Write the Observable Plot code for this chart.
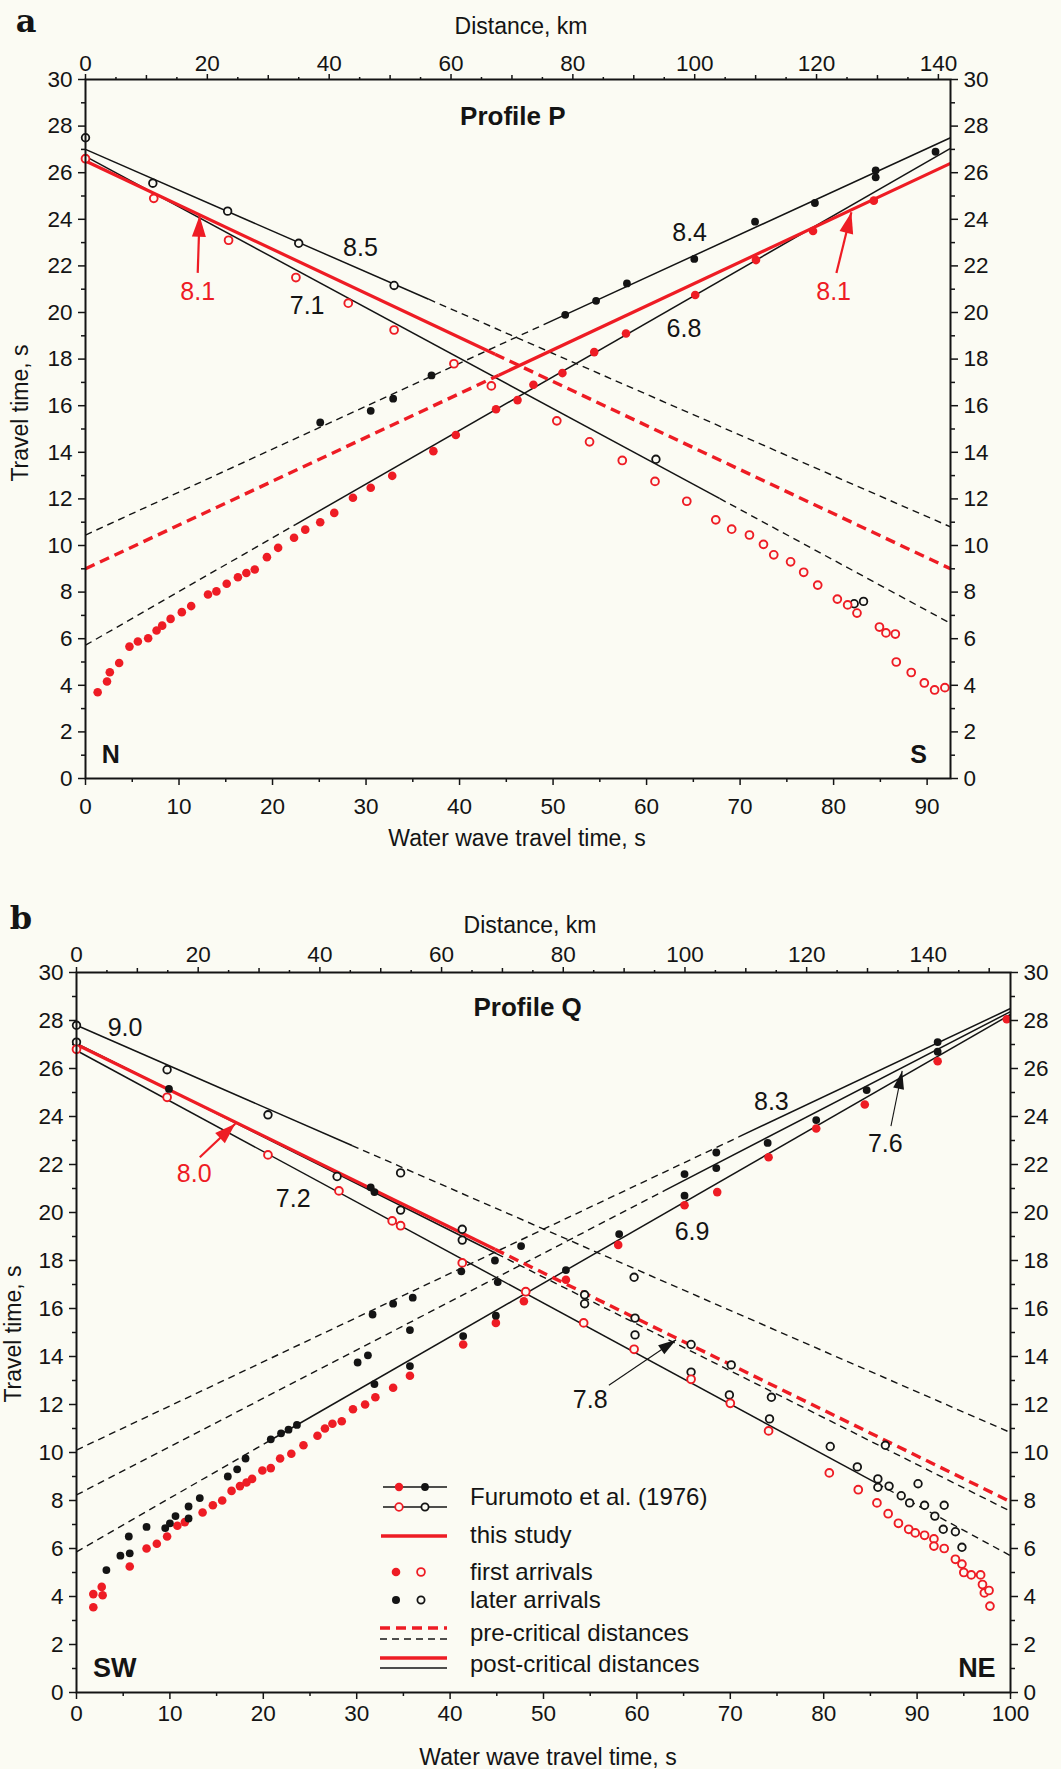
<!DOCTYPE html>
<html><head><meta charset="utf-8">
<script src="https://cdn.jsdelivr.net/npm/d3@7"></script>
<script src="https://cdn.jsdelivr.net/npm/@observablehq/plot@0.6"></script>
<style>
html,body{margin:0;padding:0;overflow:hidden;background:#fbfbf3;}
#page{position:relative;width:1061px;height:1769px;overflow:hidden;background:#fbfbf3;}
#pa,#pb,#ov{position:absolute;left:0;}
#pa{top:0;} #pb{top:880px;} #ov{top:0;pointer-events:none;}
</style></head><body><div id="page"><div id="pa"></div><div id="pb"></div><div id="ov"></div></div>
<script>
const KM_PER_S = 1.535;           // water-wave distance scale (km per s)
const FONT = '"Liberation Sans", Arial, Helvetica, sans-serif';
const INK = "#141414", RED = "#ee1c24", BG = "#fbfbf3";

// ---------------- Panel a : Profile P ----------------
const aBlackSolid  = [[0,27.0,36.7,20.57],[0,26.7,67.8,12.02],[49,19.48,92.5,27.5],[22.5,10.91,92.5,27.04]];
const aBlackDashed = [[36.7,20.57,92.5,10.8],[67.8,12.02,92.5,6.66],[0,10.45,49,19.48],[0,5.72,22.5,10.91]];
const aRedSolid    = [[0,26.5,43.8,18.21],[44.2,17.31,92.5,26.4]];
const aRedDashed   = [[43.8,18.21,92.5,9.0],[0,9.0,44.2,17.31]];
const aRedFilled = [[1.3,3.7],[2.3,4.16],[2.6,4.56],[3.6,4.96],[4.7,5.66],[5.6,5.88],[6.7,6.02],[7.6,6.35],[8.2,6.56],[9.1,6.85],[10.3,7.14],[11.3,7.4],[13.1,7.9],[14.0,8.03],[15.1,8.36],[16.3,8.64],[17.2,8.82],[18.1,8.97],[19.4,9.5],[20.6,9.9],[22.3,10.33],[23.5,10.68],[25.1,11.0],[26.6,11.4],[28.6,12.05],[30.5,12.48],[32.8,12.99],[37.2,14.05],[39.6,14.74],[43.9,15.85],[46.2,16.24],[47.9,16.9],[51.0,17.4],[54.4,18.3],[57.8,19.1],[65.2,20.75],[71.7,22.25],[77.8,23.5],[84.3,24.8]];
const aBlackFilled = [[25.1,15.28],[30.5,15.78],[32.9,16.3],[37.0,17.3],[51.3,19.9],[54.6,20.5],[57.9,21.25],[65.1,22.3],[71.6,23.9],[78.0,24.7],[84.5,26.1],[84.5,25.8],[90.9,26.9]];
const aBlackOpen = [[0,27.5],[7.2,25.55],[15.2,24.35],[22.8,22.97],[33.0,21.16],[61.0,13.7],[82.2,7.5],[83.2,7.6]];
const aRedOpen = [[0,26.6],[7.3,24.9],[15.3,23.1],[22.5,21.5],[28.1,20.4],[33.0,19.25],[39.4,17.8],[43.4,16.85],[50.4,15.35],[53.9,14.45],[57.4,13.65],[60.9,12.75],[64.3,11.9],[67.4,11.1],[69.1,10.7],[71.0,10.45],[72.5,10.05],[73.6,9.6],[75.4,9.3],[76.8,8.85],[78.3,8.3],[80.4,7.7],[81.5,7.45],[82.5,7.1],[84.9,6.5],[85.6,6.25],[86.6,6.2],[86.7,5.0],[88.3,4.55],[89.7,4.1],[90.8,3.8],[91.9,3.9]];
const aLabelsBlack = [[29.4,22.75,"8.5"],[23.7,20.3,"7.1"],[64.6,23.4,"8.4"],[64.0,19.3,"6.8"]];
const aLabelsRed = [[12.0,20.9,"8.1"],[80.0,20.9,"8.1"]];
const aArrowsRed = [[12.0,21.7,12.2,24.15],[80.3,21.7,81.9,24.3]];
const aArrowsBlack = [];
const aTitle = [[45.7,28.4,"Profile P"]];
const aEnds = [[2.7,1.0,"N"],[89.1,1.0,"S"]];

// ---------------- Panel b : Profile Q ----------------
const bBlackSolid  = [[0,27.8,29.5,22.79],[0,26.75,85.7,8.71],[0,27.05,45,18.28],[70.9,23.15,100,28.5],[63,20.92,100,28.37],[20.8,10.52,100,28.25]];
const bBlackDashed = [[29.5,22.79,100,10.83],[85.7,8.71,100,5.7],[45,18.28,100,7.55],[0,10.1,70.9,23.15],[0,8.23,63,20.92],[0,5.86,20.8,10.52]];
const bRedSolid    = [[0,27.0,44.8,18.47]];
const bRedDashed   = [[44.8,18.47,100,7.95]];
const bRedOpen = [[0,26.8],[9.7,24.8],[20.5,22.4],[28.1,20.9],[33.8,19.65],[34.7,19.45],[41.3,17.9],[48.1,16.7],[54.3,15.4],[59.7,14.3],[65.8,13.05],[70.0,12.05],[74.1,10.9],[80.6,9.15],[83.7,8.45],[85.7,7.9],[86.9,7.45],[88.0,7.05],[89.1,6.8],[89.8,6.65],[90.8,6.55],[91.8,6.4],[91.8,6.1],[92.9,6.0],[94.1,5.55],[94.8,5.35],[95.0,5.0],[95.8,4.9],[96.8,4.9],[97.0,4.5],[97.2,4.15],[97.7,4.25],[97.8,3.6]];
const bBlackOpen = [[0,27.8],[0,27.1],[9.7,25.95],[20.5,24.07],[27.9,21.5],[34.7,21.65],[34.7,20.1],[41.3,19.3],[41.3,18.85],[54.4,16.57],[54.4,16.2],[59.7,17.3],[59.8,15.6],[59.8,14.9],[65.8,14.5],[65.8,13.35],[70.1,13.65],[69.9,12.4],[74.4,12.3],[74.2,11.4],[80.7,10.25],[83.6,9.4],[85.8,8.9],[85.8,8.55],[87.0,8.6],[86.6,10.3],[88.3,8.2],[89.2,7.9],[90.1,8.7],[90.8,7.8],[91.9,7.35],[92.9,7.8],[92.8,6.8],[94.1,6.7],[94.8,6.05]];
const bRedFilled = [[1.8,3.55],[1.8,4.1],[2.7,4.4],[2.8,4.05],[5.7,5.25],[7.5,6.0],[8.6,6.2],[9.7,6.5],[10.8,6.95],[11.6,7.1],[13.5,7.5],[14.6,7.8],[15.6,8.0],[16.6,8.4],[17.5,8.6],[18.2,8.75],[18.8,8.9],[19.9,9.25],[20.8,9.35],[21.8,9.75],[23.0,9.95],[24.3,10.3],[25.8,10.7],[26.6,11.0],[27.4,11.2],[28.4,11.3],[29.6,11.8],[30.9,12.0],[32.0,12.3],[33.9,12.7],[35.7,13.2],[41.4,14.5],[44.9,15.4],[47.9,16.3],[52.4,17.2],[58.0,18.65],[65.1,20.3],[68.6,20.85],[74.1,22.3],[79.2,23.5],[84.4,24.5],[92.2,26.3],[99.6,28.05]];
const bBlackFilled = [[3.2,5.1],[4.7,5.7],[5.7,5.8],[5.6,6.5],[7.5,6.9],[9.5,6.85],[10.0,7.05],[10.6,7.35],[12.0,7.25],[12.0,7.75],[13.2,8.1],[16.2,9.0],[17.2,9.3],[18.1,9.75],[20.8,10.55],[21.9,10.8],[22.7,10.95],[23.6,11.15],[30.1,13.75],[31.2,14.05],[31.7,15.75],[33.9,16.2],[36.0,16.45],[35.7,15.1],[31.9,12.85],[35.7,13.6],[41.4,14.85],[44.9,15.7],[45.1,17.1],[41.2,17.55],[44.8,18.0],[47.6,18.6],[52.4,17.6],[58.1,19.1],[65.1,21.6],[65.1,20.7],[68.5,22.5],[68.5,21.85],[74.0,22.9],[79.2,23.85],[84.6,25.1],[92.2,27.1],[92.2,26.7],[9.9,25.15],[31.5,21.05],[31.9,20.85]];
const bLabelsBlack = [[5.2,27.7,"9.0"],[23.2,20.55,"7.2"],[74.4,24.6,"8.3"],[86.6,22.85,"7.6"],[65.9,19.2,"6.9"],[55.0,12.2,"7.8"]];
const bLabelsRed = [[12.6,21.6,"8.0"]];
const bArrowsRed = [[13.2,22.3,17.0,23.7]];
const bArrowsBlack = [[87.2,23.6,88.4,25.9],[57.0,12.8,64.2,14.7]];
const bTitle = [[48.3,28.55,"Profile Q"]];
const bEnds = [[4.1,1.0,"SW"],[96.4,1.0,"NE"]];

const legendItems = ["Furumoto et al. (1976)","this study","first arrivals","later arrivals","pre-critical distances","post-critical distances"];

function head(len, wid) {
  return {draw(ctx) { ctx.moveTo(0, 0); ctx.lineTo(-wid / 2, len); ctx.lineTo(wid / 2, len); ctx.closePath(); }};
}

function buildPanel(p) {
  const kx = (1061 - p.mL - p.mR) / p.xMax;
  const ky = (p.h - p.mT - p.mB) / 30;
  const ang = d => Math.atan2((d[2] - d[0]) * kx, (d[3] - d[1]) * ky) * 180 / Math.PI;
  const seg = {x1: d => d[0], y1: d => d[1], x2: d => d[2], y2: d => d[3]};
  const xy = {x: d => d[0], y: d => d[1]};
  const km20 = d3.range(0, p.kmMax + 1e-9, 20);
  const km10 = d3.range(10, p.kmMax + 1e-9, 20);
  const km5 = d3.range(5, p.kmMax + 1e-9, 10);
  const blank = () => "";
  const tick = {label: null, strokeWidth: 1.5};
  return Plot.plot({
    width: 1061, height: p.h,
    marginTop: p.mT, marginRight: p.mR, marginBottom: p.mB, marginLeft: p.mL,
    style: {background: BG, fontFamily: FONT, color: INK},
    x: {domain: [0, p.xMax]},
    y: {domain: [0, 30]},
    marks: [
      Plot.axisX(d3.range(5, p.xMax, 10), {...tick, anchor: "bottom", tickSize: 4, tickFormat: blank}),
      Plot.axisX(d3.range(0, p.xMax + 1e-9, 10), {...tick, anchor: "bottom", tickSize: 7, tickPadding: p.padB, fontSize: 22.5}),
      Plot.axisX(km5.map(k => k / KM_PER_S), {...tick, anchor: "top", tickSize: 3, tickFormat: blank}),
      Plot.axisX(km10.map(k => k / KM_PER_S), {...tick, anchor: "top", tickSize: 5, tickFormat: blank}),
      Plot.axisX(km20.map(k => k / KM_PER_S), {...tick, anchor: "top", tickSize: 6, tickPadding: p.padT, fontSize: 22.5, tickFormat: d => Math.round(d * KM_PER_S)}),
      Plot.axisY(d3.range(1, 30, 2), {...tick, anchor: "left", tickSize: 4, tickFormat: blank}),
      Plot.axisY(d3.range(0, 31, 2), {...tick, anchor: "left", tickSize: 7, tickPadding: 6, fontSize: 22.5}),
      Plot.axisY(d3.range(1, 30, 2), {...tick, anchor: "right", tickSize: 4, tickFormat: blank}),
      Plot.axisY(d3.range(0, 31, 2), {...tick, anchor: "right", tickSize: 7, tickPadding: 6, fontSize: 22.5}),
      Plot.link(p.blackDashed, {...seg, stroke: INK, strokeWidth: 1.4, strokeDasharray: "7,5"}),
      Plot.link(p.blackSolid, {...seg, stroke: INK, strokeWidth: 1.5}),
      Plot.link(p.redDashed, {...seg, stroke: RED, strokeWidth: 3.4, strokeDasharray: "10,6"}),
      Plot.link(p.redSolid, {...seg, stroke: RED, strokeWidth: 3.2}),
      Plot.dot(p.blackOpen, {...xy, r: 3.8, stroke: INK, strokeWidth: 1.8, fill: BG}),
      Plot.dot(p.redOpen, {...xy, r: 3.9, stroke: RED, strokeWidth: 1.9, fill: BG}),
      Plot.dot(p.redFilled, {...xy, r: 4.3, fill: RED}),
      Plot.dot(p.blackFilled, {...xy, r: 3.9, fill: INK}),
      Plot.link(p.arrowsRed, {...seg, stroke: RED, strokeWidth: 2.2}),
      Plot.dot(p.arrowsRed, {x: d => d[2], y: d => d[3], symbol: head(21, 14), fill: RED, stroke: "none", rotate: ang}),
      Plot.link(p.arrowsBlack, {...seg, stroke: INK, strokeWidth: 1.1}),
      Plot.dot(p.arrowsBlack, {x: d => d[2], y: d => d[3], symbol: head(18, 11), fill: INK, stroke: "none", rotate: ang}),
      Plot.text(p.labelsBlack, {...xy, text: d => d[2], fontSize: 25, fill: INK}),
      Plot.text(p.labelsRed, {...xy, text: d => d[2], fontSize: 25, fill: RED}),
      Plot.text(p.title, {...xy, text: d => d[2], fontSize: 26, fontWeight: "bold", fill: INK}),
      Plot.text(p.ends, {...xy, text: d => d[2], fontSize: p.endSize, fontWeight: "bold", fill: INK}),
      Plot.frame({stroke: INK, strokeWidth: 2})
    ]
  });
}

document.getElementById("pa").append(buildPanel({
  h: 860, mT: 79, mB: 82, mL: 85, mR: 111, xMax: 92.5, kmMax: 142, padB: 13, padT: 3, endSize: 25,
  blackSolid: aBlackSolid, blackDashed: aBlackDashed, redSolid: aRedSolid, redDashed: aRedDashed,
  redFilled: aRedFilled, blackFilled: aBlackFilled, blackOpen: aBlackOpen, redOpen: aRedOpen,
  labelsBlack: aLabelsBlack, labelsRed: aLabelsRed, arrowsRed: aArrowsRed, arrowsBlack: aArrowsBlack,
  title: aTitle, ends: aEnds
}));
document.getElementById("pb").append(buildPanel({
  h: 889, mT: 92, mB: 77, mL: 76, mR: 51, xMax: 100, kmMax: 153.5, padB: 6, padT: 5, endSize: 27,
  blackSolid: bBlackSolid, blackDashed: bBlackDashed, redSolid: bRedSolid, redDashed: bRedDashed,
  redFilled: bRedFilled, blackFilled: bBlackFilled, blackOpen: bBlackOpen, redOpen: bRedOpen,
  labelsBlack: bLabelsBlack, labelsRed: bLabelsRed, arrowsRed: bArrowsRed, arrowsBlack: bArrowsBlack,
  title: bTitle, ends: bEnds
}));

// ---------------- overlay: panel letters, axis titles, legend ----------------
const ov = d3.select("#ov").append("svg").attr("width", 1061).attr("height", 1769)
  .style("font-family", FONT).style("display", "block");
function txt(x, y, s, o = {}) {
  const t = ov.append("text").attr("x", x).attr("y", y).attr("dy", "0.35em")
    .attr("text-anchor", o.anchor || "middle").attr("font-size", o.size || 22)
    .attr("fill", o.fill || INK).text(s);
  if (o.weight) t.attr("font-weight", o.weight);
  if (o.family) t.attr("font-family", o.family);
  if (o.rotate) t.attr("transform", `rotate(${o.rotate},${x},${y})`);
  return t;
}
const serif = '"DejaVu Serif", "Liberation Serif", serif';
txt(26, 21, "a", {size: 32, weight: "bold", family: serif});
txt(21, 918, "b", {size: 32, weight: "bold", family: serif});
txt(521, 26, "Distance, km", {size: 23});
txt(517, 838, "Water wave travel time, s", {size: 23});
txt(20, 413, "Travel time, s", {size: 23, rotate: -90});
txt(530, 925, "Distance, km", {size: 23});
txt(548, 1757, "Water wave travel time, s", {size: 23});
txt(13, 1334, "Travel time, s", {size: 23, rotate: -90});

// legend (panel b)
const lg = ov.append("g");
function hline(y, x1, x2, color, w, dash) {
  const l = lg.append("line").attr("x1", x1).attr("x2", x2).attr("y1", y).attr("y2", y)
    .attr("stroke", color).attr("stroke-width", w);
  if (dash) l.attr("stroke-dasharray", dash);
}
function circ(x, y, r, filled, color) {
  lg.append("circle").attr("cx", x).attr("cy", y).attr("r", r)
    .attr("fill", filled ? color : BG).attr("stroke", filled ? "none" : color).attr("stroke-width", 1.8);
}
hline(1487, 383, 447, INK, 1.7); circ(399, 1487, 4.2, true, RED); circ(425, 1487, 3.9, true, INK);
hline(1507, 383, 447, INK, 1.7); circ(399, 1507, 3.8, false, RED); circ(425, 1507, 3.6, false, INK);
hline(1536, 381, 447, RED, 3.5);
circ(396, 1572, 4.3, true, RED); circ(421, 1572, 3.9, false, RED);
circ(396, 1600, 4, true, INK); circ(421, 1600, 3.6, false, INK);
hline(1628, 380, 447, RED, 3.5, "10,6"); hline(1639, 380, 447, INK, 1.5, "7,5");
hline(1658, 380, 447, RED, 3.5); hline(1668, 380, 447, INK, 1.7);
const legendY = [1497, 1535, 1572, 1600, 1633, 1664];
legendItems.forEach((s, i) => txt(470, legendY[i], s, {size: 24, anchor: "start"}));
</script></body></html>
